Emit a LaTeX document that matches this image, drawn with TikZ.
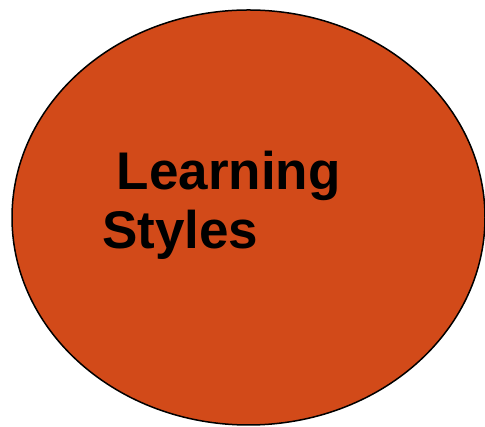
\documentclass[tikz,border=0pt]{standalone}
\usepackage{fontspec}
\setmainfont{Liberation Sans}
\usetikzlibrary{shapes.geometric}
\definecolor{rust}{HTML}{D24A19}

\begin{document}
\begin{tikzpicture}[x=1pt,y=1pt,every node/.style={inner sep=0pt}]
  \useasboundingbox (0,0) rectangle (485,427);
  \node[ellipse,draw=black,line width=1.5pt,fill=rust,minimum width=473pt,minimum height=415pt] (blob) at (248.5,209.5) {};
  \node[anchor=base west,align=left,font=\fontsize{53}{59}\selectfont\bfseries] (title) at (102,178) {\ Learning\\Styles};
\end{tikzpicture}
\end{document}
